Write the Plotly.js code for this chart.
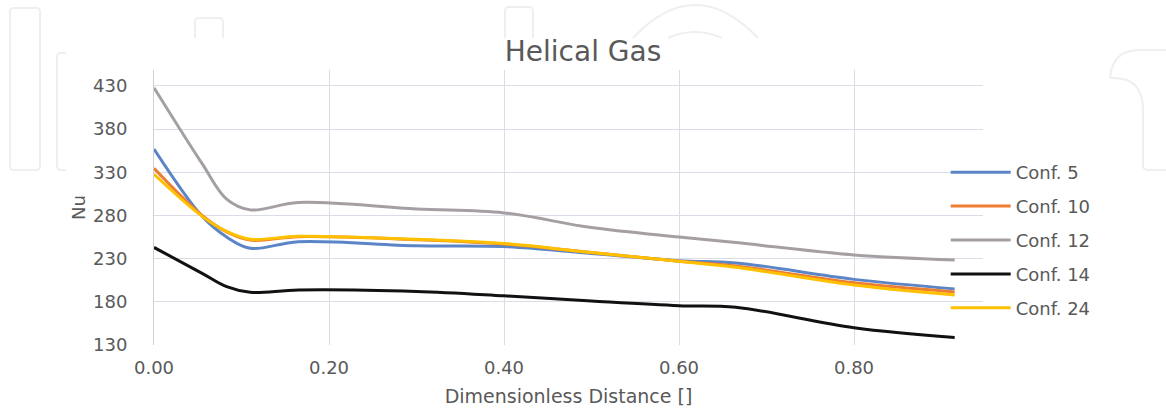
<!DOCTYPE html>
<html>
<head>
<meta charset="utf-8">
<script src="https://cdn.plot.ly/plotly-3.0.1.min.js"></script>
<style>
  html, body { margin: 0; padding: 0; background: #fff; }
  #chart { width: 1166px; height: 413px; }
</style>
</head>
<body>
<div id="chart"></div>
<script>
// Dimensionless distance (x positions)
const distance = [0, 0.055, 0.083, 0.11, 0.165, 0.3, 0.4, 0.5, 0.6, 0.665, 0.8, 0.915];

// Nu values per configuration
const conf5  = [357, 279, 255, 242, 249.7, 245, 244, 236, 227.7, 225, 206, 195];
const conf10 = [334.7, 280, 261, 251.5, 255.5, 252, 247, 237, 227, 221.5, 202, 191.5];
const conf12 = [428, 340, 299, 286.5, 295, 287.5, 283, 266, 255, 248.6, 234.3, 228.5];
const conf14 = [243, 213, 197.5, 191, 193.7, 192, 187, 181, 175.6, 173.7, 150, 138.6];
const conf24 = [327.7, 279, 261.5, 252.5, 256, 252.5, 247.5, 237, 227, 220, 199.5, 188];

const seriesNames  = ["Conf. 5", "Conf. 10", "Conf. 12", "Conf. 14", "Conf. 24"];
const seriesValues = [conf5, conf10, conf12, conf14, conf24];
const seriesColors = ["#5b85c6", "#ed7d31", "#a59fa3", "#111111", "#ffc000"];

const yTicks = [130, 180, 230, 280, 330, 380, 430];
const xTicks = [0, 0.2, 0.4, 0.6, 0.8];

const textColor = "#595959";
const gridColor = "#dcdce6";
const fontFam = "DejaVu Sans, Open Sans, sans-serif";

const traces = seriesNames.map((name, i) => ({
  type: "scatter",
  mode: "lines",
  name: name,
  x: distance,
  y: seriesValues[i],
  legendgroup: "g" + i,
  line: { color: seriesColors[i], width: 3, shape: "spline", smoothing: 1 }
}));

// faint background watermark outlines (pixel positions converted to paper units)
const PL = 154, PR = 983, PT = 70, PB = 345;
function P(x, y) {
  return ((x - PL) / (PR - PL)).toFixed(4) + "," + ((PB - y) / (PB - PT)).toFixed(4);
}
const wmColor = "#efefef";
const wmPaths = [
  "M" + P(14, 8) + " L" + P(36, 8) + " Q" + P(40, 8) + " " + P(40, 12) + " L" + P(40, 166) +
  " Q" + P(40, 170) + " " + P(36, 170) + " L" + P(14, 170) + " Q" + P(10, 170) + " " + P(10, 166) +
  " L" + P(10, 12) + " Q" + P(10, 8) + " " + P(14, 8) + " Z",
  "M" + P(66, 53) + " L" + P(61, 53) + " Q" + P(57, 53) + " " + P(57, 57) + " L" + P(57, 166) +
  " Q" + P(57, 170) + " " + P(61, 170) + " L" + P(66, 170),
  "M" + P(195, 38) + " L" + P(195, 22) + " Q" + P(195, 18) + " " + P(199, 18) + " L" + P(219, 18) +
  " Q" + P(223, 18) + " " + P(223, 22) + " L" + P(223, 38),
  "M" + P(505, 38) + " L" + P(505, 11) + " Q" + P(505, 7) + " " + P(509, 7) + " L" + P(529, 7) +
  " Q" + P(533, 7) + " " + P(533, 11) + " L" + P(533, 38),
  "M" + P(633, 38) + " Q" + P(695, -28) + " " + P(758, 38),
  "M" + P(668, 38) + " Q" + P(695, 26) + " " + P(722, 38),
  "M" + P(1110, 78) + " Q" + P(1112, 50) + " " + P(1140, 50) + " L" + P(1166, 50),
  "M" + P(1110, 78) + " Q" + P(1143, 76) + " " + P(1143, 110) + " L" + P(1143, 165) +
  " Q" + P(1143, 170) + " " + P(1148, 170) + " L" + P(1166, 170)
];
const shapes = wmPaths.map(p => ({
  type: "path", xref: "paper", yref: "paper", path: p, layer: "below",
  line: { color: wmColor, width: 2 }
}));

const layout = {
  width: 1166,
  height: 413,
  paper_bgcolor: "#ffffff",
  plot_bgcolor: "#ffffff",
  margin: { l: 154, r: 183, t: 70, b: 68 },
  font: { family: fontFam, color: textColor, size: 18 },
  title: {
    text: "Helical Gas",
    font: { family: fontFam, size: 28, color: textColor },
    x: 0.5, xref: "container", xanchor: "center",
    y: 0.8765, yref: "container", yanchor: "middle"
  },
  xaxis: {
    range: [0, 0.9474],
    tickvals: xTicks,
    tickformat: ".2f",
    showgrid: true,
    gridcolor: gridColor,
    gridwidth: 1,
    zeroline: false,
    showline: false,
    ticks: "",
    ticklabelstandoff: 10,
    tickfont: { family: fontFam, size: 18, color: textColor },
    title: { text: "Dimensionless Distance []", font: { family: fontFam, size: 19, color: textColor }, standoff: 12 }
  },
  yaxis: {
    range: [130, 448.5],
    tickvals: yTicks,
    showgrid: true,
    gridcolor: gridColor,
    gridwidth: 1,
    zeroline: false,
    showline: true,
    linecolor: "#cfcfda",
    linewidth: 1,
    ticks: "",
    ticklabelstandoff: 22,
    tickfont: { family: fontFam, size: 18, color: textColor },
    title: { text: "Nu", font: { family: fontFam, size: 18, color: textColor }, standoff: 2 }
  },
  shapes: shapes,
  showlegend: true,
  legend: {
    x: 0.955, xanchor: "left",
    y: 0.6945, yanchor: "top",
    bgcolor: "rgba(0,0,0,0)",
    traceorder: "grouped",
    tracegroupgap: 7.5,
    itemwidth: 60,
    font: { family: fontFam, size: 18, color: textColor }
  }
};

Plotly.newPlot("chart", traces, layout, { displayModeBar: false, staticPlot: true });
</script>
</body>
</html>
